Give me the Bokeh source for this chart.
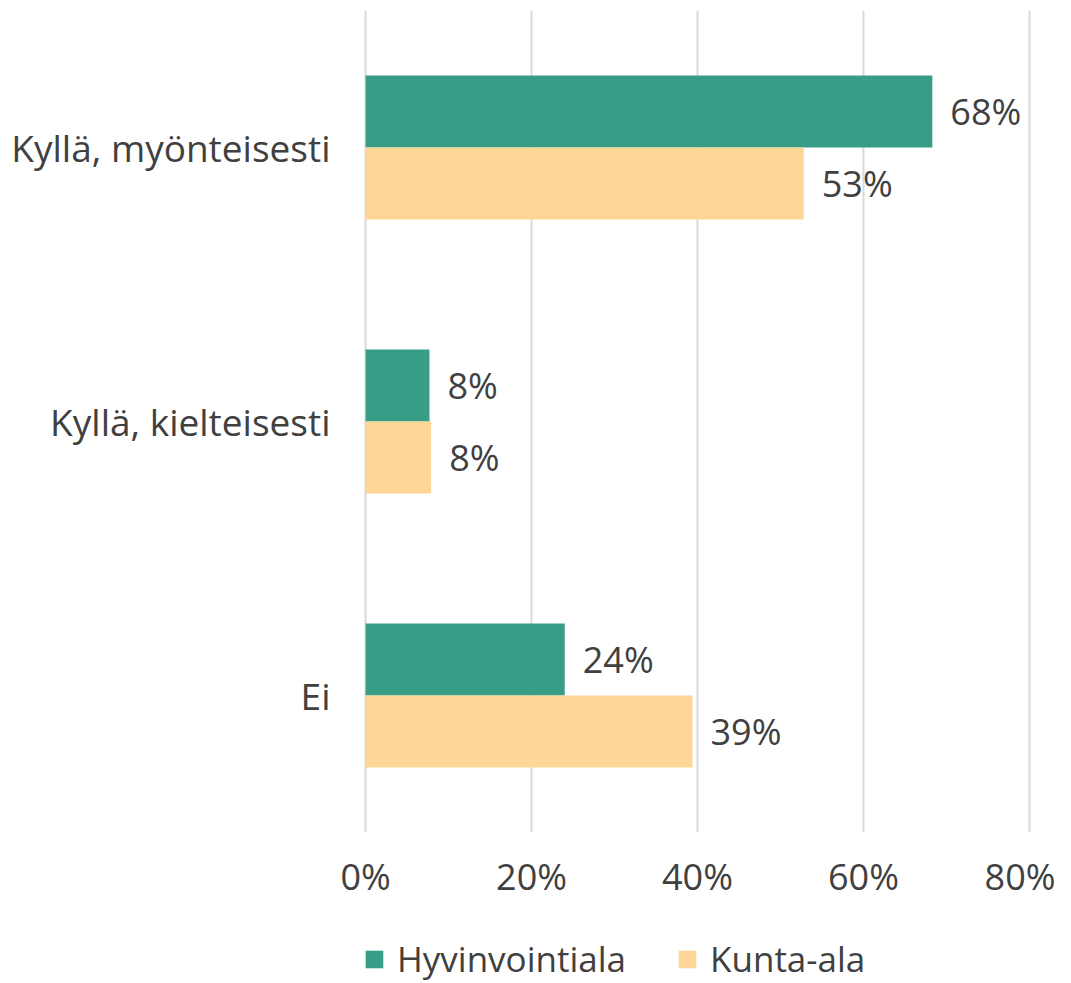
from bokeh.plotting import figure
from bokeh.layouts import column
from bokeh.models import ColumnDataSource, Range1d, FactorRange, Legend, LegendItem
from bokeh.transform import dodge
from bokeh.core.properties import value
from bokeh.embed import file_html
from bokeh.resources import INLINE

categories = ["Kyllä, myönteisesti", "Kyllä, kielteisesti", "Ei"]
series_names = ["Hyvinvointiala", "Kunta-ala"]
hyvinvointiala = [68.3, 7.7, 24.0]
kunta_ala = [52.8, 7.9, 39.4]
x_ticks = [0, 20, 40, 60, 80]

GREEN = "#389d86"
BEIGE = "#fed797"
TEXT = "#404040"
FONT = "Open Sans"

src = ColumnDataSource(dict(
    cat=categories,
    h=hyvinvointiala,
    k=kunta_ala,
    hl=[f"{round(v)}%" for v in hyvinvointiala],
    kl=[f"{round(v)}%" for v in kunta_ala],
))

W = 1055
H1 = 905
p = figure(width=W, height=H1, output_backend="svg", toolbar_location=None,
           x_range=Range1d(-0.25, 80.25),
           y_range=FactorRange(factors=list(reversed(categories)), range_padding=0),
           min_border_left=363, min_border_right=24, min_border_top=10,
           min_border_bottom=H1 - 10 - 822)
p.outline_line_color = None

BH = 0.263
r1 = p.hbar(y=dodge("cat", BH / 2, range=p.y_range), right="h", left=0, height=BH,
            source=src, fill_color=GREEN, line_color=None)
r2 = p.hbar(y=dodge("cat", -BH / 2, range=p.y_range), right="k", left=0, height=BH,
            source=src, fill_color=BEIGE, line_color=None)

p.text(x="h", y=dodge("cat", BH / 2, range=p.y_range), text="hl", source=src,
       x_offset=18, text_align="left", text_baseline="middle",
       text_font=value(FONT), text_font_size="36px", text_color=TEXT)
p.text(x="k", y=dodge("cat", -BH / 2, range=p.y_range), text="kl", source=src,
       x_offset=18, text_align="left", text_baseline="middle",
       text_font=value(FONT), text_font_size="36px", text_color=TEXT)

p.xaxis.ticker = x_ticks
p.xaxis.major_label_overrides = {t: f"{t}%" for t in x_ticks}
for ax in (p.xaxis[0], p.yaxis[0]):
    ax.axis_line_color = None
    ax.major_tick_line_color = None
    ax.minor_tick_line_color = None
    ax.major_tick_out = 0
    ax.major_tick_in = 0
    ax.major_label_text_font = FONT
    ax.major_label_text_color = TEXT
p.xaxis.major_label_text_font_size = "36px"
p.xaxis.major_label_standoff = 19
p.yaxis.major_label_text_font_size = "37px"
p.yaxis.major_label_standoff = 33

p.xgrid.grid_line_color = "#d9d9d9"
p.xgrid.grid_line_width = 2
p.ygrid.grid_line_color = None

# legend strip below the chart
H2 = 78
q = figure(width=W, height=H2, output_backend="svg", toolbar_location=None,
           x_range=Range1d(0, 1), y_range=Range1d(0, 1),
           x_axis_location=None, y_axis_location=None,
           min_border_left=340, min_border_right=0, min_border_top=30, min_border_bottom=0)
q.outline_line_color = None
q.xgrid.grid_line_color = None
q.ygrid.grid_line_color = None
g1 = q.hbar(y="h", right="h", left=0, height=1, source=src,
            fill_color=GREEN, line_color=None, visible=False)
g2 = q.hbar(y="k", right="k", left=0, height=1, source=src,
            fill_color=BEIGE, line_color=None, visible=False)
legend = Legend(items=[LegendItem(label=series_names[0], renderers=[g1]),
                       LegendItem(label=series_names[1], renderers=[g2])],
                orientation="horizontal", location="top_left",
                label_text_font=FONT, label_text_font_size="35px", label_text_color=TEXT,
                glyph_width=22, glyph_height=22, label_standoff=12, spacing=50,
                padding=0, margin=0, border_line_color=None, background_fill_alpha=0,
                inactive_fill_alpha=0)
q.add_layout(legend, "center")

layout = column(p, q, spacing=0)
open("out.html", "w").write(file_html(layout, INLINE))
